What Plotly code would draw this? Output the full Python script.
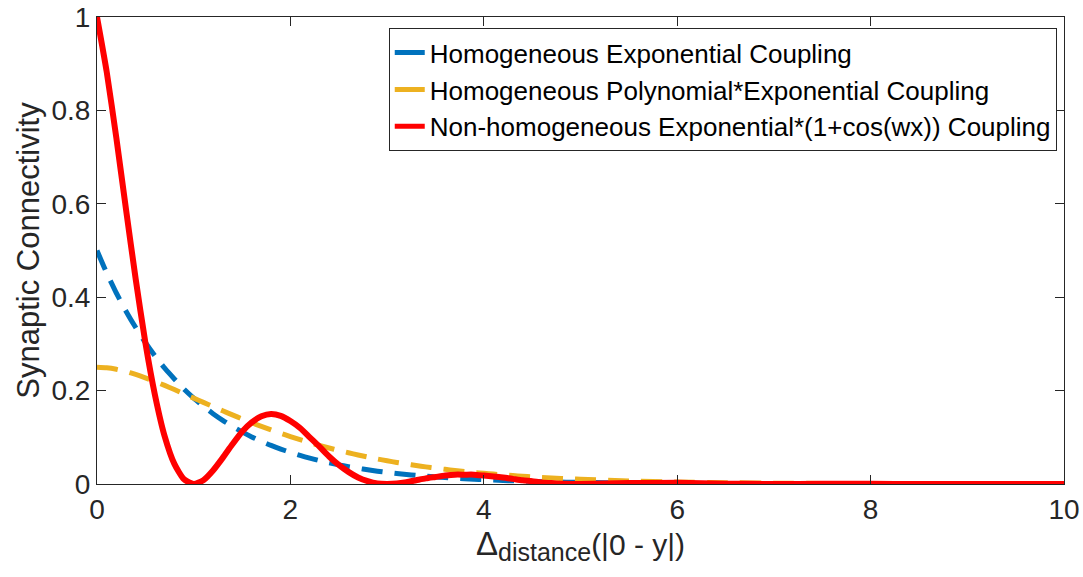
import plotly.graph_objects as go

# x positions (distance)
x_vals = [0.0, 0.1, 0.2, 0.3, 0.4, 0.5, 0.6, 0.7, 0.8, 0.9,
          1.0, 1.1, 1.2, 1.3, 1.4, 1.5, 1.6, 1.7, 1.8, 1.9,
          2.0, 2.1, 2.2, 2.3, 2.4, 2.5, 2.6, 2.7, 2.8, 2.9,
          3.0, 3.1, 3.2, 3.3, 3.4, 3.5, 3.6, 3.7, 3.8, 3.9,
          4.0, 4.1, 4.2, 4.3, 4.4, 4.5, 4.6, 4.7, 4.8, 4.9,
          5.0, 5.5, 6.0, 6.5, 7.0, 7.5, 8.0, 8.5, 9.0, 9.5, 10.0]

exp_coupling = [0.500, 0.452, 0.409, 0.370, 0.335, 0.303, 0.274, 0.248, 0.225, 0.203,
                0.1839, 0.1665, 0.1506, 0.1363, 0.1233, 0.1116, 0.1009, 0.0913, 0.0826, 0.0748,
                0.0677, 0.0612, 0.0554, 0.0501, 0.0454, 0.0410, 0.0371, 0.0336, 0.0304, 0.0275,
                0.0249, 0.0225, 0.0204, 0.0184, 0.0167, 0.0151, 0.0137, 0.0124, 0.0112, 0.0101,
                0.0092, 0.0083, 0.0075, 0.0068, 0.0062, 0.0056, 0.0050, 0.0046, 0.0041, 0.0037,
                0.0034, 0.0020, 0.0012, 0.0008, 0.0005, 0.0003, 0.0002, 0.0001, 0.0001, 0.0, 0.0]

poly_exp_coupling = [0.2500, 0.2488, 0.2456, 0.2408, 0.2346, 0.2274, 0.2195, 0.2111, 0.2022, 0.1931,
                     0.1839, 0.1748, 0.1657, 0.1567, 0.1480, 0.1394, 0.1312, 0.1233, 0.1157, 0.1085,
                     0.1015, 0.0949, 0.0886, 0.0827, 0.0771, 0.0718, 0.0669, 0.0622, 0.0578, 0.0536,
                     0.0498, 0.0461, 0.0428, 0.0397, 0.0367, 0.0340, 0.0314, 0.0290, 0.0269, 0.0247,
                     0.0229, 0.0212, 0.0195, 0.0180, 0.0166, 0.0153, 0.0141, 0.0130, 0.0119, 0.0109,
                     0.0101, 0.0066, 0.0043, 0.0028, 0.0018, 0.0012, 0.0008, 0.0005, 0.0003, 0.0002, 0.0001]

cos_exp_coupling = [1.000, 0.883, 0.741, 0.588, 0.439, 0.303, 0.190, 0.102, 0.043, 0.010,
                    0.000, 0.008, 0.029, 0.056, 0.085, 0.112, 0.132, 0.145, 0.150, 0.146,
                    0.135, 0.120, 0.100, 0.080, 0.059, 0.041, 0.026, 0.014, 0.006, 0.001,
                    0.000, 0.001, 0.004, 0.008, 0.012, 0.015, 0.018, 0.020, 0.020, 0.020,
                    0.018, 0.016, 0.014, 0.011, 0.008, 0.006, 0.0035, 0.0019, 0.0008, 0.0002,
                    0.0, 0.0020, 0.0025, 0.0008, 0.0, 0.0003, 0.0003, 0.0001, 0.0, 0.0, 0.0]

series_names = ["Homogeneous Exponential Coupling",
                "Homogeneous Polynomial*Exponential Coupling",
                "Non-homogeneous Exponential*(1+cos(wx)) Coupling"]
series_colors = ["#0072BD", "#EDB120", "#FF0000"]

x_ticks = [0, 2, 4, 6, 8, 10]
y_ticks = [0, 0.2, 0.4, 0.6, 0.8, 1]
y_tick_text = ["0", "0.2", "0.4", "0.6", "0.8", "1"]

FONT = "Liberation Sans, Arial, Helvetica, sans-serif"
DASH = "21px,12px"

fig = go.Figure()
fig.add_trace(go.Scatter(x=x_vals, y=exp_coupling, mode="lines", name=series_names[0], showlegend=False,
                         line=dict(color=series_colors[0], width=5, dash=DASH, shape="spline", smoothing=0.6)))
fig.add_trace(go.Scatter(x=x_vals, y=poly_exp_coupling, mode="lines", name=series_names[1], showlegend=False,
                         line=dict(color=series_colors[1], width=5, dash=DASH, shape="spline", smoothing=0.6)))
fig.add_trace(go.Scatter(x=x_vals, y=cos_exp_coupling, mode="lines", name=series_names[2], showlegend=False,
                         line=dict(color=series_colors[2], width=6, shape="spline", smoothing=0.6)))
# legend entries (solid short line samples as in the reference legend)
for name, col in zip(series_names, series_colors):
    fig.add_trace(go.Scatter(x=[None], y=[None], mode="lines", name=name,
                             line=dict(color=col, width=5)))

axis_common = dict(showline=True, linecolor="#262626", linewidth=1, mirror="ticks",
                   ticks="inside", ticklen=9, tickcolor="#262626", tickwidth=1,
                   showgrid=False, zeroline=False, automargin=False,
                   tickfont=dict(family=FONT, size=28, color="#262626"))

x_title = ("<span style='font-size:33px'>Δ</span>"
           "<sub><span style='font-size:25px'>distance</span></sub>(|0 - y|)")

fig.update_layout(
    width=1083, height=577,
    margin=dict(l=97, r=19, t=17, b=93),
    plot_bgcolor="white", paper_bgcolor="white",
    font=dict(family=FONT, color="#262626"),
    xaxis=dict(range=[0, 10], tickvals=x_ticks, ticktext=[str(t) for t in x_ticks],
               title=dict(text=x_title, font=dict(size=30), standoff=8),
               **axis_common),
    yaxis=dict(range=[0, 1], tickvals=y_ticks, ticktext=y_tick_text,
               title=dict(text="Synaptic Connectivity", font=dict(size=31), standoff=2),
               **axis_common),
    legend=dict(x=0.9925, y=0.976, xanchor="right", yanchor="top",
                bgcolor="white", bordercolor="#262626", borderwidth=1,
                font=dict(family=FONT, size=26, color="black"),
                itemwidth=30, tracegroupgap=0),
    showlegend=True,
)

fig.write_html("out.html")
